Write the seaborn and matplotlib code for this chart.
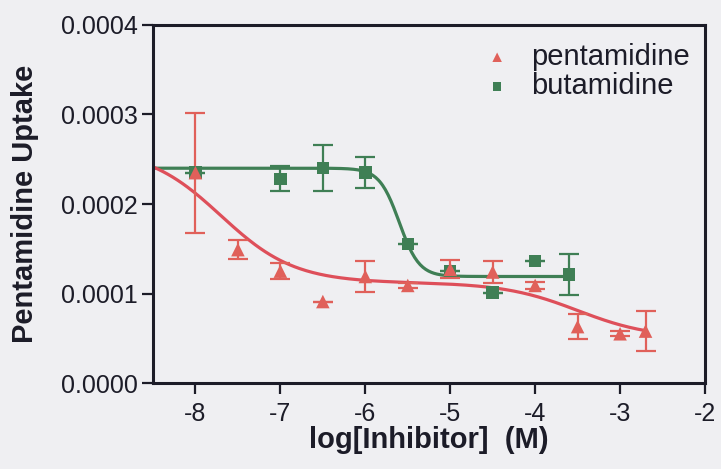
import numpy as np
import pandas as pd
import matplotlib
matplotlib.use("Agg")
import matplotlib.pyplot as plt
import seaborn as sns

# ---- data ----
pent_x = [-8, -7.5, -7, -6.5, -6, -5.5, -5, -4.5, -4, -3.5, -3, -2.7]
pent_y = [0.000235, 0.000149, 0.000125, 0.000091, 0.000119, 0.000109,
          0.000127, 0.000124, 0.000109, 0.000063, 0.000055, 0.000058]
pent_err = [0.000067, 0.000011, 0.000009, 0.0, 0.000017, 0.000003,
            0.000010, 0.000012, 0.000004, 0.000014, 0.000003, 0.000022]

but_x = [-8, -7, -6.5, -6, -5.5, -5, -4.5, -4, -3.6]
but_y = [0.000235, 0.000228, 0.000240, 0.000235, 0.000155, 0.000125,
         0.000101, 0.000136, 0.000121]
but_err = [0.0, 0.000014, 0.000026, 0.000017, 0.0, 0.0, 0.0, 0.0, 0.000023]

# fitted curve parameters (two-site for pentamidine, one-site for butamidine)
pent_fit = dict(top=0.000262, mid=0.000112, bottom=0.000050, c1=-7.7, c2=-3.5)
pent_range = (-8.5, -2.7)
but_fit = dict(top=0.000240, bottom=0.000119, c=-5.6, hill=3.7)
but_range = (-8.5, -3.6)

xticks = [-8, -7, -6, -5, -4, -3, -2]
yticks = [0.0, 0.0001, 0.0002, 0.0003, 0.0004]

red = "#de4f5a"
red_pt = "#e0605a"
green = "#3f7f55"
bg = "#efeff2"
ink = "#1c1c28"

sns.set_theme(style="ticks", rc={"axes.spines.top": True,
                                 "axes.spines.right": True})
plt.rcParams["font.family"] = ["Liberation Sans", "DejaVu Sans"]

fig = plt.figure(figsize=(7.21, 4.69), dpi=100, facecolor=bg)
ax = fig.add_axes([153 / 721, 86 / 469, 552 / 721, 358 / 469])
ax.set_facecolor(bg)

# curves
xp = np.linspace(*pent_range, 300)
p = pent_fit
yp = (p["bottom"] + (p["mid"] - p["bottom"]) / (1 + 10 ** (xp - p["c2"]))
      + (p["top"] - p["mid"]) / (1 + 10 ** (xp - p["c1"])))
xb = np.linspace(*but_range, 300)
b = but_fit
yb = b["bottom"] + (b["top"] - b["bottom"]) / (1 + 10 ** (b["hill"] * (xb - b["c"])))

curves = pd.concat([
    pd.DataFrame({"x": xb, "y": yb, "s": "butamidine"}),
    pd.DataFrame({"x": xp, "y": yp, "s": "pentamidine"}),
])
sns.lineplot(data=curves, x="x", y="y", hue="s",
             palette={"pentamidine": red, "butamidine": green},
             linewidth=2.3, legend=False, ax=ax, sort=False)

# error bars
ax.errorbar(but_x, but_y, yerr=but_err, fmt="none", ecolor=green,
            elinewidth=1.6, capsize=7, capthick=1.6, zorder=3)
ax.errorbar(pent_x, pent_y, yerr=pent_err, fmt="none", ecolor=red_pt,
            elinewidth=1.6, capsize=7, capthick=1.6, zorder=3)

pts = pd.concat([
    pd.DataFrame({"x": pent_x, "y": pent_y, "s": "pentamidine"}),
    pd.DataFrame({"x": but_x, "y": but_y, "s": "butamidine"}),
])
sns.scatterplot(data=pts[pts.s == "butamidine"], x="x", y="y", color=green,
                marker="s", s=80, edgecolor="none", ax=ax, zorder=4,
                label="butamidine")
sns.scatterplot(data=pts[pts.s == "pentamidine"], x="x", y="y", color=red_pt,
                marker="^", s=95, edgecolor="none", ax=ax, zorder=5,
                label="pentamidine")

ax.set_xlim(-8.5, -2)
ax.set_ylim(0, 0.0004)
ax.set_xticks(xticks)
ax.set_xticklabels([str(t) for t in xticks])
ax.set_yticks(yticks)
ax.set_yticklabels([f"{t:.4f}" for t in yticks])
ax.tick_params(axis="both", direction="out", length=8, width=1.6,
               colors=ink, labelsize=18, pad=3,
               top=False, right=False)
ax.tick_params(axis="x", pad=6)
for name in ["left", "bottom", "top", "right"]:
    sp = ax.spines[name]
    sp.set_visible(True)
    sp.set_color(ink)
    sp.set_linewidth(2.2)

ax.set_xlabel("log[Inhibitor]  (M)", fontsize=21, fontweight="bold",
              color=ink, labelpad=0)
ax.set_ylabel("Pentamidine Uptake", fontsize=21, fontweight="bold",
              color=ink, labelpad=16)

h, l = ax.get_legend_handles_labels()
order = [l.index("pentamidine"), l.index("butamidine")]
leg = ax.legend([h[i] for i in order], [l[i] for i in order],
                loc="upper left", frameon=False, fontsize=21,
                markerscale=0.7, handlelength=1.0, handletextpad=0.65,
                labelspacing=0.05, borderpad=0, borderaxespad=0,
                bbox_to_anchor=(0.597, 0.95))
for t in leg.get_texts():
    t.set_color(ink)

fig.savefig("out.png", dpi=100, facecolor=bg)
